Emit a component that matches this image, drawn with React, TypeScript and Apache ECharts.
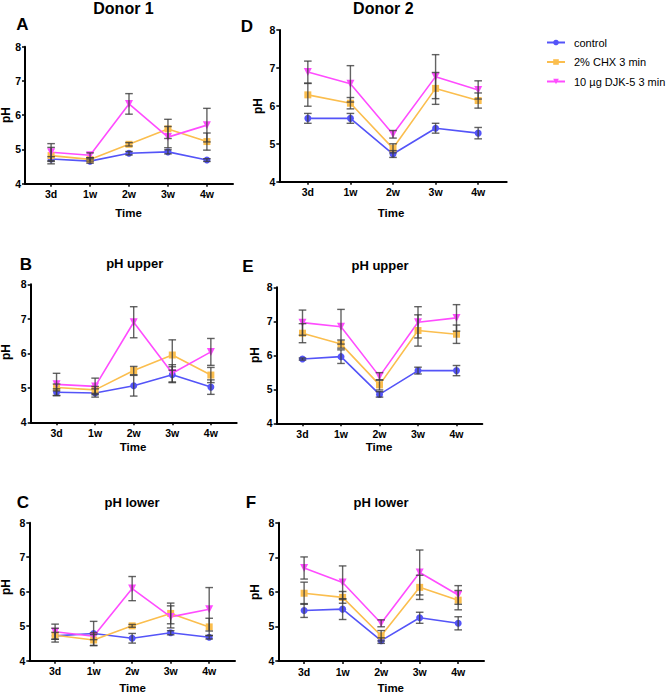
import React, { useEffect, useRef } from 'react';
import * as echarts from 'echarts';

const categories = ['3d', '1w', '2w', '3w', '4w'];
const seriesNames = ['control', '2% CHX 3 min', '10 µg DJK-5 3 min'];
const yTicks = [4, 5, 6, 7, 8];

// Panel A – Donor 1, pH
const aControl = [4.72, 4.66, 4.89, 4.93, 4.69];
const aControlSd = [0.07, 0.06, 0.05, 0.06, 0.04];
const aChx = [4.82, 4.71, 5.15, 5.6, 5.23];
const aChxSd = [0.24, 0.05, 0.05, 0.28, 0.25];
const aDjk = [4.92, 4.83, 6.33, 5.36, 5.71];
const aDjkSd = [0.25, 0.07, 0.3, 0.31, 0.49];

// Panel B – Donor 1, pH upper
const bControl = [4.87, 4.85, 5.06, 5.38, 5.02];
const bControlSd = [0.1, 0.12, 0.3, 0.23, 0.21];
const bChx = [5.01, 4.94, 5.5, 5.95, 5.37];
const bChxSd = [0.1, 0.1, 0.12, 0.44, 0.22];
const bDjk = [5.1, 5.04, 6.9, 5.42, 6.04];
const bDjkSd = [0.32, 0.24, 0.45, 0.25, 0.39];

// Panel C – Donor 1, pH lower
const cControl = [4.72, 4.79, 4.65, 4.81, 4.68];
const cControlSd = [0.1, 0.35, 0.14, 0.06, 0.05];
const cChx = [4.74, 4.6, 5.01, 5.37, 4.98];
const cChxSd = [0.2, 0.16, 0.04, 0.3, 0.25];
const cDjk = [4.84, 4.71, 6.09, 5.27, 5.49];
const cDjkSd = [0.22, 0.1, 0.35, 0.32, 0.63];

// Panel D – Donor 2, pH
const dControl = [5.67, 5.67, 4.73, 5.41, 5.28];
const dControlSd = [0.13, 0.13, 0.09, 0.13, 0.15];
const dChx = [6.29, 6.07, 4.88, 6.46, 6.14];
const dChxSd = [0.3, 0.15, 0.12, 0.42, 0.2];
const dDjk = [6.89, 6.58, 5.25, 6.77, 6.42];
const dDjkSd = [0.29, 0.48, 0.1, 0.58, 0.24];

// Panel E – Donor 2, pH upper
const eControl = [5.89, 5.96, 4.85, 5.55, 5.55];
const eControlSd = [0.03, 0.2, 0.08, 0.1, 0.15];
const eChx = [6.65, 6.33, 5.13, 6.73, 6.62];
const eChxSd = [0.28, 0.12, 0.15, 0.46, 0.27];
const eDjk = [6.96, 6.84, 5.38, 6.97, 7.1];
const eDjkSd = [0.37, 0.51, 0.11, 0.46, 0.39];

// Panel F – Donor 2, pH lower
const fControl = [5.46, 5.5, 4.59, 5.25, 5.09];
const fControlSd = [0.2, 0.3, 0.08, 0.16, 0.19];
const fChx = [5.96, 5.84, 4.73, 6.13, 5.76];
const fChxSd = [0.32, 0.17, 0.15, 0.35, 0.28];
const fDjk = [6.69, 6.27, 5.09, 6.56, 5.91];
const fDjkSd = [0.32, 0.48, 0.1, 0.65, 0.27];

const FONT = '"Liberation Sans", Arial, Helvetica, sans-serif';
const COLORS = ['#5454F8', '#FBBE4E', '#FF4CFF'];
const SYMBOLS = ['circle', 'rect', 'triangle'];
const SYMBOL_SIZES = [7, 7, 8];
const SYMBOL_ROTATE = [0, 0, 180];

const panels = [
  { letter: 'A', title: 'Donor 1', titleSize: 16, means: [aControl, aChx, aDjk], sds: [aControlSd, aChxSd, aDjkSd],
    grid: { left: 25, top: 46.7, width: 208, height: 137 }, letterPos: [22.5, 24.5], titlePos: [123.5, 8], phPos: [6, 115], timePos: [128.5, 213] },
  { letter: 'D', title: 'Donor 2', titleSize: 16, means: [dControl, dChx, dDjk], sds: [dControlSd, dChxSd, dDjkSd],
    grid: { left: 279.3, top: 30, width: 227.4, height: 151.7 }, letterPos: [247, 26.5], titlePos: [383.3, 8], phPos: [258, 106], timePos: [391, 213] },
  { letter: 'B', title: 'pH upper', titleSize: 13, means: [bControl, bChx, bDjk], sds: [bControlSd, bChxSd, bDjkSd],
    grid: { left: 30.7, top: 284.3, width: 206, height: 138 }, letterPos: [26, 264], titlePos: [134.7, 263.5], phPos: [5.5, 352], timePos: [133, 447] },
  { letter: 'E', title: 'pH upper', titleSize: 13, means: [eControl, eChx, eDjk], sds: [eControlSd, eChxSd, eDjkSd],
    grid: { left: 276.7, top: 287.3, width: 205.6, height: 136 }, letterPos: [248, 266], titlePos: [380, 265], phPos: [255, 355], timePos: [379, 447] },
  { letter: 'C', title: 'pH lower', titleSize: 13, means: [cControl, cChx, cDjk], sds: [cControlSd, cChxSd, cDjkSd],
    grid: { left: 29.3, top: 522.7, width: 205.7, height: 138 }, letterPos: [23, 502], titlePos: [132, 502], phPos: [5.5, 587], timePos: [132.5, 688] },
  { letter: 'F', title: 'pH lower', titleSize: 13, means: [fControl, fChx, fDjk], sds: [fControlSd, fChxSd, fDjkSd],
    grid: { left: 278.3, top: 522.7, width: 205.7, height: 138.3 }, letterPos: [251, 502.5], titlePos: [381, 502], phPos: [255, 592], timePos: [390.7, 688] },
];

function errorBarRender(params: any, api: any) {
  const x = api.value(0);
  const lo = api.value(1);
  const hi = api.value(2);
  const top = api.coord([x, hi]);
  const bot = api.coord([x, lo]);
  const w = 3.8;
  const style = { stroke: '#3c3c3c', lineWidth: 1.4, opacity: 0.8 };
  return {
    type: 'group',
    children: [
      { type: 'line', shape: { x1: top[0], y1: top[1], x2: bot[0], y2: bot[1] }, style },
      { type: 'line', shape: { x1: top[0] - w, y1: top[1], x2: top[0] + w, y2: top[1] }, style },
      { type: 'line', shape: { x1: bot[0] - w, y1: bot[1], x2: bot[0] + w, y2: bot[1] }, style },
    ],
  };
}

function buildOption() {
  const grids: any[] = [];
  const xAxes: any[] = [];
  const yAxes: any[] = [];
  const series: any[] = [];
  const graphics: any[] = [];
  const tickIdx = categories.map((_, i) => i);

  panels.forEach((p, pi) => {
    grids.push({ ...p.grid, containLabel: false, outerBoundsMode: 'none' });
    xAxes.push({
      type: 'value', gridIndex: pi, min: -0.67, max: categories.length - 1 + 0.67,
      axisLine: { show: true, onZero: false, lineStyle: { color: '#000', width: 2 } },
      axisTick: { show: true, customValues: tickIdx, length: 3, lineStyle: { color: '#000', width: 1.5 } },
      axisLabel: {
        show: true, customValues: tickIdx, formatter: (v: number) => categories[Math.round(v)] ?? '',
        fontSize: 10.5, fontWeight: 'bold', color: '#000', margin: 5, fontFamily: FONT,
      },
      splitLine: { show: false },
    });
    yAxes.push({
      type: 'value', gridIndex: pi, min: yTicks[0], max: yTicks[yTicks.length - 1], interval: 1,
      axisLine: { show: true, onZero: false, lineStyle: { color: '#000', width: 2 } },
      axisTick: { show: true, length: 3, lineStyle: { color: '#000', width: 1.5 } },
      axisLabel: { fontSize: 10.5, fontWeight: 'bold', color: '#000', margin: 4, fontFamily: FONT },
      splitLine: { show: false },
    });
    p.means.forEach((m, si) => {
      series.push({
        type: 'line', name: seriesNames[si], xAxisIndex: pi, yAxisIndex: pi,
        data: m.map((v, i) => [i, v]),
        symbol: SYMBOLS[si], symbolSize: SYMBOL_SIZES[si], symbolRotate: SYMBOL_ROTATE[si],
        showSymbol: true,
        lineStyle: { color: COLORS[si], width: 1.6 },
        itemStyle: { color: COLORS[si] },
        z: 2,
      });
    });
    p.means.forEach((m, si) => {
      series.push({
        type: 'custom', name: seriesNames[si] + ' SD', xAxisIndex: pi, yAxisIndex: pi,
        renderItem: errorBarRender,
        encode: { x: 0, y: [1, 2] },
        data: m.map((v, i) => [i, v - p.sds[si][i], v + p.sds[si][i]]),
        z: 3, silent: true,
      });
    });
    const txt = (x: number, y: number, text: string, size: number, extra: any = {}) => ({
      type: 'text', x, y, ...extra,
      style: { text, font: `bold ${size}px ${FONT}`, fill: '#000', align: 'center', verticalAlign: 'middle', textAlign: 'center', textVerticalAlign: 'middle' },
    });
    graphics.push(txt(p.letterPos[0], p.letterPos[1], p.letter, 17));
    graphics.push(txt(p.titlePos[0], p.titlePos[1], p.title, p.titleSize));
    graphics.push(txt(p.phPos[0], p.phPos[1], 'pH', 12, { rotation: Math.PI / 2 }));
    graphics.push(txt(p.timePos[0], p.timePos[1], 'Time', 11.5));
  });

  return {
    animation: false,
    backgroundColor: '#fff',
    textStyle: { fontFamily: FONT },
    grid: grids,
    xAxis: xAxes,
    yAxis: yAxes,
    series,
    legend: {
      data: seriesNames, orient: 'vertical', left: 541, top: 32,
      itemWidth: 18, itemHeight: 7, itemGap: 8.5,
      textStyle: { fontSize: 11, color: '#000', fontFamily: FONT, padding: [0, 0, 0, 4] },
      selectedMode: false,
    },
    graphic: graphics,
  };
}

export default function App() {
  const ref = useRef<HTMLDivElement>(null);
  useEffect(() => {
    if (!ref.current) return;
    const chart = echarts.init(ref.current, undefined, { renderer: 'svg' });
    chart.setOption(buildOption() as any);
    return () => chart.dispose();
  }, []);
  return <div ref={ref} style={{ position: 'absolute', left: 0, top: 0, width: 669, height: 693 }} />;
}
